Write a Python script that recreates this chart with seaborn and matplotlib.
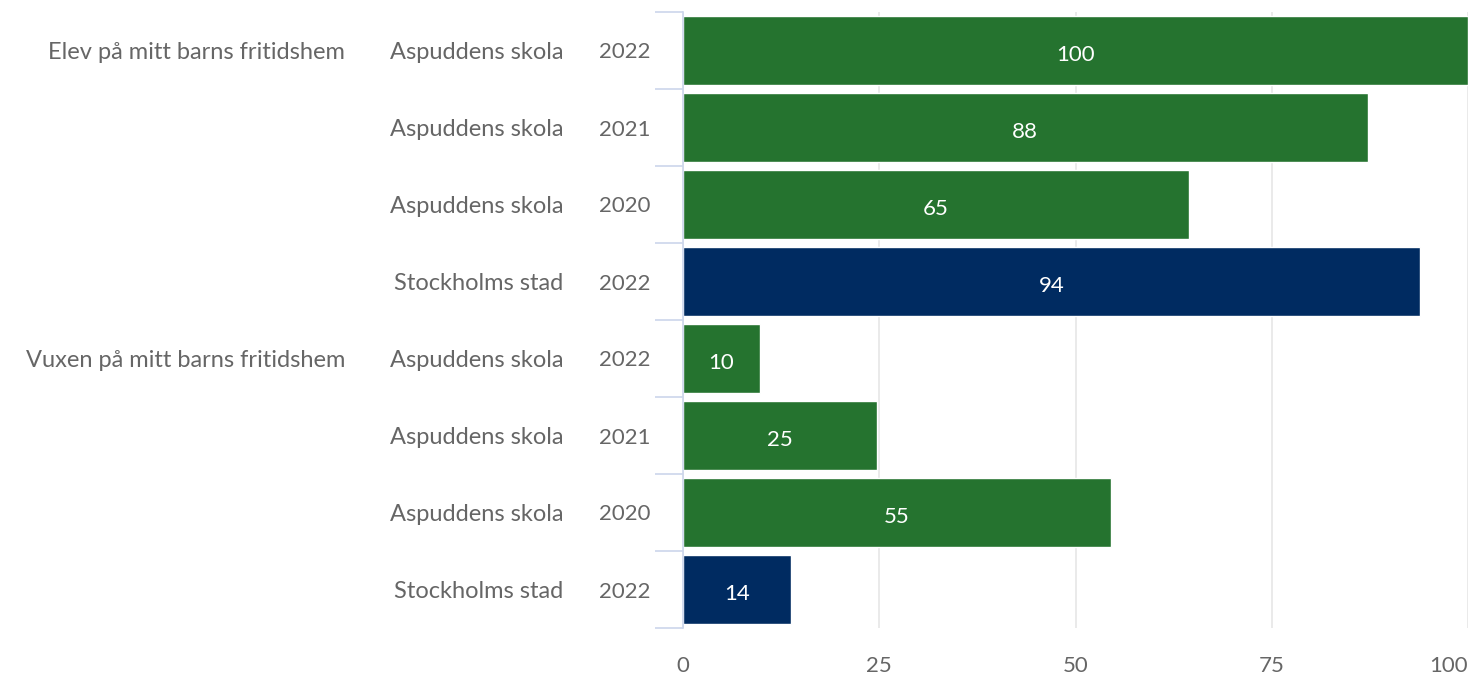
import matplotlib
matplotlib.use("Agg")
import matplotlib.pyplot as plt
import matplotlib.transforms as mtransforms
import seaborn as sns
import pandas as pd

groups = ["Elev på mitt barns fritidshem", "", "", "",
          "Vuxen på mitt barns fritidshem", "", "", ""]
schools = ["Aspuddens skola", "Aspuddens skola", "Aspuddens skola", "Stockholms stad",
           "Aspuddens skola", "Aspuddens skola", "Aspuddens skola", "Stockholms stad"]
years = ["2022", "2021", "2020", "2022", "2022", "2021", "2020", "2022"]
values = [100, 87.2, 64.4, 93.9, 9.8, 24.7, 54.5, 13.8]
value_labels = ["100", "88", "65", "94", "10", "25", "55", "14"]
xticks = [0, 25, 50, 75, 100]

GREEN = "#25732f"
NAVY = "#002b61"
TXT = "#666666"
AXC = "#ccd6eb"

sns.set_style("white")
plt.rcParams['font.family'] = ['Lato', 'DejaVu Sans']

df = pd.DataFrame({
    "row": [f"r{i}" for i in range(len(values))],
    "value": values,
    "kind": ["Stad" if s == "Stockholms stad" else "Skola" for s in schools],
})

fig = plt.figure(figsize=(14.78, 6.73), dpi=100)
ax = fig.add_axes([683/1478, 1 - 628/673, (1468-683)/1478, (628-12)/673])

sns.barplot(data=df, x="value", y="row", hue="kind",
            palette={"Skola": GREEN, "Stad": NAVY}, dodge=False, saturation=1,
            width=0.885, edgecolor="white", linewidth=1, legend=False, ax=ax)

ax.set_xlim(0, 100)
ax.set_ylim(len(values) - 0.5, -0.5)
ax.set_xticks(xticks)
labs = ax.set_xticklabels([str(t) for t in xticks], fontsize=16, color=TXT)
labs[-1].set_horizontalalignment("right")
ax.tick_params(axis="x", length=0, pad=20)
ax.xaxis.grid(True, color="#e6e6e6", linewidth=1.2)
ax.set_axisbelow(True)

ax.set_yticks(range(len(values)))
ax.set_yticklabels([])
ax.tick_params(axis="y", which="major", length=0, left=False)
ax.set_yticks([i - 0.5 for i in range(len(values) + 1)], minor=True)
ax.tick_params(axis="y", which="minor", left=True, length=20, width=1.2, color=AXC)

for s in ["top", "right", "bottom"]:
    ax.spines[s].set_visible(False)
ax.spines["left"].set_color(AXC)
ax.spines["left"].set_linewidth(1.2)

ax.set_xlabel("")
ax.set_ylabel("")

trans = mtransforms.blended_transform_factory(fig.transFigure, ax.transData)
for i, (g, s, yv) in enumerate(zip(groups, schools, years)):
    ax.text(650/1478, i, yv, transform=trans, ha="right", va="center_baseline",
            fontsize=16, color=TXT)
    ax.text(563/1478, i, s, transform=trans, ha="right", va="center_baseline",
            fontsize=17, color=TXT)
    if g:
        ax.text(345/1478, i, g, transform=trans, ha="right", va="center_baseline",
                fontsize=17, color=TXT)

for i, (v, lab) in enumerate(zip(values, value_labels)):
    ax.text(v / 2, i + 0.03, lab, ha="center", va="center_baseline",
            fontsize=16, color="white")

fig.savefig("out.png", dpi=100)
